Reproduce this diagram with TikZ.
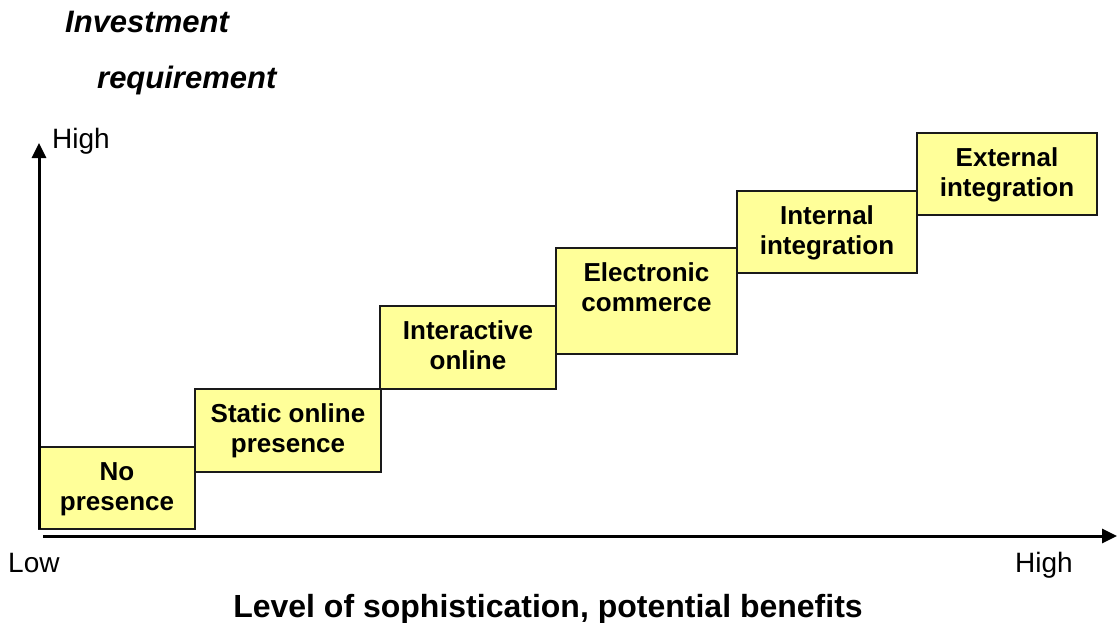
\documentclass[tikz,border=0pt]{standalone}
\usepackage{fontspec}
\setmainfont{Liberation Sans}
\usetikzlibrary{arrows.meta}
\definecolor{boxfill}{HTML}{FFFF99}
\definecolor{boxline}{HTML}{1A1A1A}
\tikzset{
  stage/.style={draw=boxline, line width=2.2pt, fill=boxfill, inner sep=0pt, outer sep=0pt, anchor=north west},
  stagetext/.style={anchor=north, inner sep=0pt, align=center,
    font=\fontsize{26}{30}\selectfont\bfseries},
  axis/.style={line width=3pt, -{Triangle[length=15pt,width=14pt]}},
  axlabel/.style={anchor=base west, inner sep=0pt, font=\fontsize{28}{32}\selectfont},
  titlelabel/.style={anchor=base west, inner sep=0pt, font=\fontsize{31}{36}\selectfont\bfseries\itshape},
}
\begin{document}
\begin{tikzpicture}[x=1pt,y=-1pt]
\useasboundingbox (0,0) rectangle (1117,622);
% boxes
\node[stage, minimum width=156pt, minimum height=82pt] (b1) at (39,447) {};
\node[stage, minimum width=186pt, minimum height=83pt] (b2) at (195,389) {};
\node[stage, minimum width=176pt, minimum height=83pt] (b3) at (380,306) {};
\node[stage, minimum width=181pt, minimum height=106pt] (b4) at (556,248) {};
\node[stage, minimum width=180pt, minimum height=82pt] (b5) at (737,191) {};
\node[stage, minimum width=180pt, minimum height=82pt] (b6) at (917,133) {};
\node[stagetext] (t1) at ([yshift=-12.6pt]b1.north) {\strut No\\presence};
\node[stagetext] (t2) at ([yshift=-12.6pt]b2.north) {\strut Static online\\presence};
\node[stagetext] (t3) at ([yshift=-12.6pt]b3.north) {\strut Interactive\\online};
\node[stagetext] (t4) at ([yshift=-12.6pt]b4.north) {\strut Electronic\\commerce};
\node[stagetext] (t5) at ([yshift=-12.6pt]b5.north) {\strut Internal\\integration};
\node[stagetext] (t6) at ([yshift=-12.6pt]b6.north) {\strut External\\integration};
% axes
\coordinate (yo) at (39,529);
\coordinate (ytop) at (39,143);
\coordinate (xo) at (43,536);
\coordinate (xend) at (1117,536);
\draw[axis] (yo) -- (ytop);
\draw[axis] (xo) -- (xend);
% labels
\node[titlelabel] (inv) at (65,32) {Investment};
\node[titlelabel] (req) at (97,88) {requirement};
\node[axlabel] (yhigh) at (52,148) {High};
\node[axlabel] (xlow) at (8,572) {Low};
\node[axlabel] (xhigh) at (1015,572) {High};
\node[anchor=base, inner sep=0pt, font=\fontsize{32}{36}\selectfont\bfseries] (xtitle) at (548,617) {Level of sophistication, potential benefits};
\end{tikzpicture}
\end{document}
